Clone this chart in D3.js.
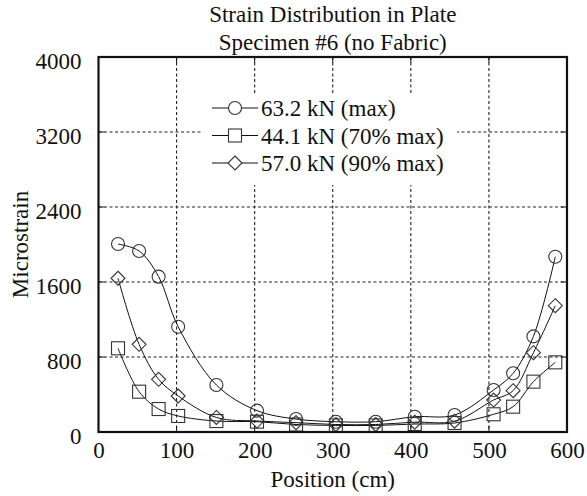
<!DOCTYPE html>
<html>
<head>
<meta charset="utf-8">
<script src="https://cdn.jsdelivr.net/npm/d3@7"></script>
<style>
  html, body { margin: 0; padding: 0; background: #fff; }
  svg { display: block; }
  text { font-family: "Liberation Serif", "DejaVu Serif", serif; fill: #111; }
</style>
</head>
<body>
<svg id="chart" width="587" height="496"></svg>
<script>
// ---- data ----
const positions = [25, 52, 77, 102, 151, 203, 253, 304, 355, 405, 456, 506, 531, 557, 585];
const load632 = [2005, 1931, 1657, 1123, 501, 228, 138, 110, 110, 163, 181, 448, 626, 1020, 1870];
const load441 = [893, 430, 245, 171, 117, 110, 80, 70, 70, 85, 96, 189, 270, 537, 743];
const load570 = [1640, 935, 562, 384, 155, 117, 100, 80, 80, 105, 115, 341, 441, 846, 1347];
const seriesNames = ["63.2 kN (max)", "44.1 kN (70% max)", "57.0 kN (90% max)"];
const seriesMarkers = ["circle", "square", "diamond"];
const xTicks = [0, 100, 200, 300, 400, 500, 600];
const yTicks = [0, 800, 1600, 2400, 3200, 4000];
const titleLines = ["Strain Distribution in Plate", "Specimen #6 (no Fabric)"];
const xLabel = "Position (cm)";
const yLabel = "Microstrain";

const series = [load632, load441, load570].map((vals, i) => ({
  name: seriesNames[i], marker: seriesMarkers[i],
  points: positions.map((p, j) => ({ x: p, y: vals[j] }))
}));

// ---- layout ----
const L = 98.5, R = 567, T = 57, B = 432;
const svg = d3.select("#chart");
const x = d3.scaleLinear().domain([0, 600]).range([L, R]);
const y = d3.scaleLinear().domain([0, 4000]).range([B, T]);
const FS = 23;

// grid
const grid = svg.append("g").attr("stroke", "#222").attr("stroke-width", 1.1).attr("stroke-dasharray", "3,2.5");
xTicks.slice(1, -1).forEach(t => grid.append("line").attr("x1", x(t)).attr("x2", x(t)).attr("y1", T).attr("y2", B));
yTicks.slice(1, -1).forEach(t => grid.append("line").attr("x1", L).attr("x2", R).attr("y1", y(t)).attr("y2", y(t)));

// small solid inward ticks
const tk = svg.append("g").attr("stroke", "#111").attr("stroke-width", 1);
xTicks.slice(1, -1).forEach(t => {
  tk.append("line").attr("x1", x(t)).attr("x2", x(t)).attr("y1", B).attr("y2", B - 6);
  tk.append("line").attr("x1", x(t)).attr("x2", x(t)).attr("y1", T).attr("y2", T + 6);
});
yTicks.slice(1, -1).forEach(t => {
  tk.append("line").attr("x1", L).attr("x2", L + 6).attr("y1", y(t)).attr("y2", y(t));
  tk.append("line").attr("x1", R).attr("x2", R - 6).attr("y1", y(t)).attr("y2", y(t));
});

// legend background (covers gridlines)
svg.append("rect").attr("x", 201).attr("y", 93).attr("width", 256).attr("height", 92).attr("fill", "#fff");

// axes labels via d3 axes (text only)
const xAxis = svg.append("g").attr("transform", `translate(0,${B})`)
  .call(d3.axisBottom(x).tickValues(xTicks).tickSize(0).tickPadding(10).tickFormat(d3.format("d")));
xAxis.select(".domain").remove();
xAxis.selectAll("text").attr("font-size", FS).attr("font-family", "Liberation Serif").attr("fill", "#111");

const yAxis = svg.append("g").attr("transform", `translate(${L},0)`)
  .call(d3.axisLeft(y).tickValues(yTicks).tickSize(0).tickPadding(17).tickFormat(d3.format("d")));
yAxis.select(".domain").remove();
yAxis.selectAll("text").attr("font-size", FS).attr("font-family", "Liberation Serif").attr("fill", "#111").attr("dy", "0.5em");

// lines
const line = d3.line().x(d => x(d.x)).y(d => y(d.y)).curve(d3.curveCatmullRom.alpha(0.5));
series.forEach(s => {
  svg.append("path").datum(s.points).attr("d", line).attr("fill", "none").attr("stroke", "#111").attr("stroke-width", 1);
});

// markers
function drawMarker(g, type, cx, cy) {
  if (type === "circle") {
    g.append("circle").attr("cx", cx).attr("cy", cy).attr("r", 6.5);
  } else if (type === "square") {
    g.append("rect").attr("x", cx - 6.5).attr("y", cy - 6.5).attr("width", 13).attr("height", 13);
  } else {
    const h = 7;
    g.append("path").attr("d", `M${cx},${cy - h}L${cx + h},${cy}L${cx},${cy + h}L${cx - h},${cy}Z`);
  }
}
const mk = svg.append("g").attr("fill", "none").attr("stroke", "#333").attr("stroke-width", 1.1);
series.forEach(s => s.points.forEach(p => drawMarker(mk, s.marker, x(p.x), y(p.y))));

// frame
svg.append("rect").attr("x", L).attr("y", T).attr("width", R - L).attr("height", B - T)
  .attr("fill", "none").attr("stroke", "#111").attr("stroke-width", 2.2);

// legend
const lg = svg.append("g");
series.forEach((s, i) => {
  const ly = 108 + i * 27.5;
  lg.append("line").attr("x1", 212).attr("x2", 258).attr("y1", ly).attr("y2", ly).attr("stroke", "#111").attr("stroke-width", 1);
  const g = lg.append("g").attr("fill", "#fff").attr("stroke", "#333").attr("stroke-width", 1.1);
  drawMarker(g, s.marker, 235, ly);
  lg.append("text").attr("x", 261).attr("y", ly).attr("dy", "0.35em").attr("font-size", FS).text(s.name);
});

// titles
titleLines.forEach((t, i) => {
  svg.append("text").attr("x", (L + R) / 2).attr("y", 22 + i * 28).attr("text-anchor", "middle")
    .attr("font-size", FS).text(t);
});
svg.append("text").attr("x", (L + R) / 2).attr("y", 487).attr("text-anchor", "middle").attr("font-size", FS).text(xLabel);
svg.append("text").attr("transform", `translate(28,${(T + B) / 2}) rotate(-90)`).attr("text-anchor", "middle")
  .attr("font-size", FS).text(yLabel);
</script>
</body>
</html>
